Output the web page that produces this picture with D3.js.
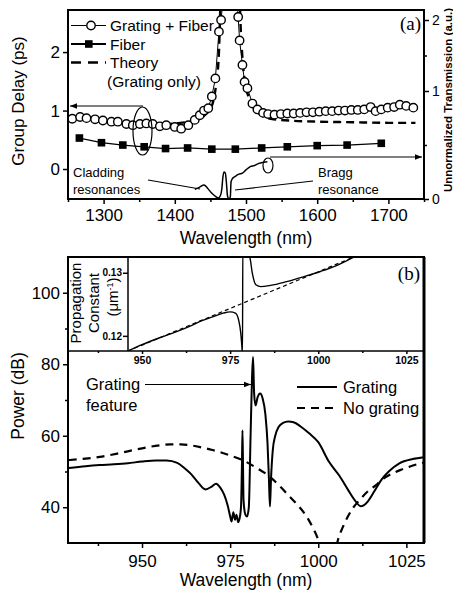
<!DOCTYPE html>
<html lang="en">
<head>
<meta charset="UTF-8">
<title>Group delay / grating power</title>
<script src="https://d3js.org/d3.v7.min.js"></script>
<style>
  body { margin: 0; background: #fff; }
  text { font-family: "Liberation Sans", Arial, sans-serif; fill: #000; }
</style>
</head>
<body>
<script>
// ---------- panel (a) : group delay ----------
var gfWl    = [1256,1267,1276,1288,1299,1311,1320,1332,1341,1351,1360,1369,1379,1388,1400,1409,1419,1428,1435,1441,1447,1452,1457,1462,1465,1470,
               1486,1489,1491,1495,1498,1502,1509,1516,1524,1531,1540,1549,1558,1567,1576,1585,1594,1603,1612,1621,1630,1639,1648,1657,1666,1675,1682,1690,1699,1708,1716,1725,1735];
var gfDelay = [0.86,0.89,0.87,0.85,0.83,0.81,0.81,0.77,0.75,0.77,0.78,0.77,0.73,0.75,0.72,0.69,0.75,0.84,0.92,1.0,1.04,1.24,1.55,2.35,2.55,3.2,
               3.2,2.6,2.2,1.78,1.49,1.38,1.12,1.02,0.96,0.94,0.93,0.94,0.95,0.95,0.96,0.97,0.97,0.98,0.99,0.99,1.0,1.0,1.01,1.01,1.02,1.06,0.99,1.02,1.05,1.06,1.1,1.08,1.05];

var fiberWl    = [1266,1297,1327,1357,1387,1418,1452,1485,1522,1558,1600,1642,1690];
var fiberDelay = [0.53,0.45,0.41,0.38,0.35,0.36,0.34,0.34,0.36,0.38,0.40,0.41,0.44];

var theoryWl    = [1385,1400,1415,1430,1442,1452,1458,1462,1464,1466,1490,1492,1495,1499,1505,1512,1520,1535,1560,1600,1650,1700,1738];
var theoryDelay = [0.76,0.78,0.80,0.84,0.92,1.08,1.45,2.0,2.8,3.5,3.5,2.6,1.9,1.45,1.2,1.03,0.93,0.86,0.83,0.81,0.80,0.79,0.79];

var transWl  = [1428,1435,1441,1446,1451,1456,1461,1464,1466,1467.5,1469,1471,1472.5,1474,1476,1478,1479,1481,1485,1490,1495,1500,1506,1512,1518,1525,1530];
var transVal = [0.09,0.11,0.13,0.10,0.06,0.03,0.01,0.03,0.09,0.20,0.25,0.24,0.15,0.03,0.0,0.02,0.16,0.19,0.21,0.23,0.24,0.27,0.30,0.31,0.33,0.34,0.345];

var aXTicks = [1300,1400,1500,1600,1700];
var aXMinor = [1250,1350,1450,1550,1650,1750];
var aYTicks = [0,1,2];
var aRTicks = [0,1,2];

// ---------- panel (b) : power ----------
var gratWl  = [929.2,934,938,942,946,950,954,957,960,962,964,966,968,969.8,971,972.2,973.3,974.3,975,975.4,975.9,976.4,976.8,977.3,977.8,978.1,978.35,978.5,978.65,978.8,979.3,979.8,980.3,980.8,981.2,981.5,981.8,982.2,982.8,983.5,984.2,985,985.6,986,986.3,986.6,987.1,987.8,988.8,990,991.5,993,995,997.5,1000,1003,1006,1008.5,1010.5,1012,1013,1014.2,1016,1018,1020,1023,1026.8,1030];
var gratPow = [51.0,51.5,51.8,52.0,52.3,52.8,53.1,53.1,52.4,51.0,49.2,46.8,45.0,45.8,46.6,45.5,43.5,40.5,37.5,36.0,38.6,36.5,37.9,35.8,37.5,40.5,52,61.5,52,42,38,37.4,40,60,76,82,72,68.5,70.8,71.8,70.5,66,58,48,40.2,48,56,60,62.5,63.6,64.0,63.8,62.6,60.6,58.2,52.8,48.8,44.8,41.8,40.3,40.6,41.8,44.6,47.8,50.0,52.3,53.5,54.0];

var noGratWl  = [929.2,934,938,943,947.6,951,955,958,961,964,967,970,972.2,975,978.7,982,986.3,989,991,993.5,996.7,998.5,1000,1001.5,1003,1004.5,1005.6,1007,1008.4,1010,1011.7,1014,1016.4,1018.5,1021.1,1023.5,1025.8,1028,1030];
var noGratPow = [53.2,53.6,54.1,55.0,56.0,56.7,57.3,57.6,57.6,57.3,56.7,56.0,55.4,54.5,53.1,51.3,48.5,46.0,43.9,41.3,37.4,34.2,30.9,26,18,26,30.9,34.5,37.4,40.0,42.0,44.4,46.2,48.0,49.5,50.5,51.3,52.0,52.5];

var bXTicks = [950,975,1000,1025];
var bXMinor = [937.5,962.5,987.5,1012.5];
var bYTicks = [40,60,80,100];
var bYMinor = [50,70,90];

// inset : propagation constant
var insetWl   = [946,950,955,960,963.5,967,970,973,975,976.5,977.5,978.0,978.3,978.5,978.6,980.6,981.3,982.3,983.7,986.5,991,996,1000.6,1005,1008,1010.5];
var insetBeta = [0.1176,0.1186,0.1197,0.1207,0.1215,0.1224,0.1230,0.1236,0.1238,0.1236,0.1223,0.1205,0.1186,0.1170,0.1340,0.1324,0.1299,0.1281,0.1278,0.1280,0.1286,0.1294,0.1302,0.1311,0.1319,0.1326];
var insetLineWl   = [946,1010.5];
var insetLineBeta = [0.1176,0.1326];
var insetYTicks = [0.12,0.13];

var W = 453, H = 593;
var svg = d3.select("body").append("svg").attr("width", W).attr("height", H);
var defs = svg.append("defs");
defs.append("clipPath").attr("id", "clipA").append("rect").attr("x", 68).attr("y", 10).attr("width", 356).attr("height", 189);
defs.append("clipPath").attr("id", "clipI").append("rect").attr("x", 128).attr("y", 257).attr("width", 296).attr("height", 94);
defs.append("clipPath").attr("id", "clipB").append("rect").attr("x", 68).attr("y", 351).attr("width", 356).attr("height", 192);
defs.append("marker").attr("id", "arrow").attr("viewBox", "0 0 10 10")
    .attr("refX", 10).attr("refY", 5).attr("markerWidth", 8).attr("markerHeight", 7)
    .attr("markerUnits", "userSpaceOnUse").attr("orient", "auto-start-reverse")
  .append("path").attr("d", "M0,1L10,5L0,9Z");

// scales
var xA = d3.scaleLinear().domain([1250, 1750]).range([68, 424]);
var yA = d3.scaleLinear().domain([-0.53, 2.72]).range([200, 10]);
var yT = d3.scaleLinear().domain([0, 1, 2]).range([199, 91, 20]);
var xB = d3.scaleLinear().domain([929, 1030]).range([68, 424]);
var yB = d3.scaleLinear().domain([30, 110]).range([543, 257]);
var yI = d3.scaleLinear().domain([0.1176, 0.1325]).range([351, 257]);
var fmtInt = d3.format("d");

function styleAxis(g, size, weight) {
  g.attr("font-family", "'Liberation Sans', Arial, sans-serif").attr("font-size", size);
  if (weight) g.attr("font-weight", weight);
  g.select(".domain").remove();
  g.selectAll("line").attr("stroke", "#000").attr("stroke-width", 1.5);
}

// ================= panel (a) =================
var pa = svg.append("g");

pa.append("g").attr("transform", "translate(0,199)")
  .call(d3.axisBottom(xA).tickValues(aXTicks).tickSize(5).tickPadding(5).tickFormat(fmtInt))
  .call(styleAxis, 17);
pa.append("g").attr("transform", "translate(0,199)")
  .call(d3.axisBottom(xA).tickValues(aXMinor).tickSize(3).tickFormat(""))
  .call(styleAxis, 17);
pa.append("g").attr("transform", "translate(68,0)")
  .call(d3.axisLeft(yA).tickValues(aYTicks).tickSize(5).tickPadding(3).tickFormat(fmtInt))
  .call(styleAxis, 17);
pa.append("g").attr("transform", "translate(424,0)")
  .call(d3.axisRight(yT).tickValues(aRTicks).tickSize(5).tickPadding(3).tickFormat(fmtInt))
  .call(styleAxis, 14);
pa.append("g").attr("transform", "translate(424,0)")
  .call(d3.axisRight(yT).tickValues([0.5, 1.5]).tickSize(3).tickFormat(""))
  .call(styleAxis, 14);

var plotA = pa.append("g").attr("clip-path", "url(#clipA)");
var lineA = d3.line().x(function(d) { return xA(d[0]); }).y(function(d) { return yA(d[1]); });
var lineT = d3.line().x(function(d) { return xA(d[0]); }).y(function(d) { return yT(d[1]); });

plotA.append("path").datum(d3.zip(theoryWl, theoryDelay))
  .attr("d", lineA.curve(d3.curveMonotoneX)).attr("fill", "none").attr("stroke", "#000")
  .attr("stroke-width", 2.4).attr("stroke-dasharray", "8,5");
lineA.curve(d3.curveLinear);
plotA.append("path").datum(d3.zip(gfWl, gfDelay))
  .attr("d", lineA).attr("fill", "none").attr("stroke", "#000").attr("stroke-width", 1);
plotA.selectAll("circle.gf").data(d3.zip(gfWl, gfDelay)).enter().append("circle")
  .attr("class", "gf").attr("cx", function(d) { return xA(d[0]); }).attr("cy", function(d) { return yA(d[1]); })
  .attr("r", 4.2).attr("fill", "#fff").attr("stroke", "#000").attr("stroke-width", 1.4);

plotA.append("path").datum(d3.zip(fiberWl, fiberDelay))
  .attr("d", lineA).attr("fill", "none").attr("stroke", "#000").attr("stroke-width", 1.3);
plotA.selectAll("rect.fb").data(d3.zip(fiberWl, fiberDelay)).enter().append("rect")
  .attr("class", "fb").attr("x", function(d) { return xA(d[0]) - 3.8; }).attr("y", function(d) { return yA(d[1]) - 3.8; })
  .attr("width", 7.6).attr("height", 7.6).attr("fill", "#000");

plotA.append("path").datum(d3.zip(transWl, transVal))
  .attr("d", lineT.curve(d3.curveMonotoneX)).attr("fill", "none").attr("stroke", "#000").attr("stroke-width", 1.5);

// frame (a)
pa.append("rect").attr("x", 68).attr("y", 10).attr("width", 356).attr("height", 189)
  .attr("fill", "none").attr("stroke", "#000").attr("stroke-width", 2);

// annotations (a)
pa.append("ellipse").attr("cx", 142.5).attr("cy", 131).attr("rx", 9.5).attr("ry", 24)
  .attr("fill", "none").attr("stroke", "#000").attr("stroke-width", 1.2);
pa.append("line").attr("x1", 143).attr("y1", 106).attr("x2", 70).attr("y2", 106)
  .attr("stroke", "#000").attr("stroke-width", 1.2).attr("marker-end", "url(#arrow)");
pa.append("ellipse").attr("cx", 268).attr("cy", 165.5).attr("rx", 5).attr("ry", 7.5)
  .attr("fill", "none").attr("stroke", "#000").attr("stroke-width", 1.2);
pa.append("line").attr("x1", 270).attr("y1", 157).attr("x2", 422).attr("y2", 157)
  .attr("stroke", "#000").attr("stroke-width", 1.2).attr("marker-end", "url(#arrow)");
pa.append("line").attr("x1", 148).attr("y1", 180).attr("x2", 200).attr("y2", 189).attr("stroke", "#000").attr("stroke-width", 1.1);
pa.append("line").attr("x1", 235).attr("y1", 190).attr("x2", 313).attr("y2", 181).attr("stroke", "#000").attr("stroke-width", 1.1);
pa.append("text").attr("x", 73).attr("y", 177).attr("font-size", 13).text("Cladding");
pa.append("text").attr("x", 73).attr("y", 194).attr("font-size", 13).text("resonances");
pa.append("text").attr("x", 318).attr("y", 177).attr("font-size", 13).text("Bragg");
pa.append("text").attr("x", 318).attr("y", 194).attr("font-size", 13).text("resonance");

// legend (a)
var lg = pa.append("g");
lg.append("line").attr("x1", 71).attr("x2", 106).attr("y1", 25.5).attr("y2", 25.5).attr("stroke", "#000").attr("stroke-width", 1);
lg.append("circle").attr("cx", 91).attr("cy", 25.5).attr("r", 4.2).attr("fill", "#fff").attr("stroke", "#000").attr("stroke-width", 1.4);
lg.append("line").attr("x1", 71).attr("x2", 106).attr("y1", 44).attr("y2", 44).attr("stroke", "#000").attr("stroke-width", 2);
lg.append("rect").attr("x", 85).attr("y", 40.2).attr("width", 7.6).attr("height", 7.6).attr("fill", "#000");
lg.append("line").attr("x1", 71).attr("x2", 106).attr("y1", 62.5).attr("y2", 62.5).attr("stroke", "#000")
  .attr("stroke-width", 2.4).attr("stroke-dasharray", "10,7");
lg.append("text").attr("x", 110).attr("y", 31).attr("font-size", 15.5).text("Grating + Fiber");
lg.append("text").attr("x", 110).attr("y", 49.5).attr("font-size", 15.5).text("Fiber");
lg.append("text").attr("x", 110).attr("y", 68).attr("font-size", 15.5).text("Theory");
lg.append("text").attr("x", 107).attr("y", 86.5).attr("font-size", 15.5).text("(Grating only)");

pa.append("text").attr("x", 421).attr("y", 30).attr("text-anchor", "end")
  .style("font-family", "'Liberation Serif', 'Times New Roman', serif").attr("font-size", 19).text("(a)");

// axis titles (a)
pa.append("text").attr("transform", "translate(24,101) rotate(-90)").attr("text-anchor", "middle")
  .attr("font-size", 17).text("Group Delay (ps)");
pa.append("text").attr("transform", "translate(452,100) rotate(-90)").attr("text-anchor", "middle")
  .attr("font-size", 11.5).attr("font-weight", "bold").text("Unnormalized Transmission (a.u.)");
pa.append("text").attr("x", 246).attr("y", 244).attr("text-anchor", "middle")
  .attr("font-size", 17.5).text("Wavelength (nm)");

// ================= panel (b) =================
var pb = svg.append("g");

pb.append("g").attr("transform", "translate(0,543)")
  .call(d3.axisBottom(xB).tickValues(bXTicks).tickSize(5).tickPadding(7).tickFormat(fmtInt))
  .call(styleAxis, 17);
pb.append("g").attr("transform", "translate(0,543)")
  .call(d3.axisBottom(xB).tickValues(bXMinor).tickSize(3).tickFormat(""))
  .call(styleAxis, 17);
pb.append("g").attr("transform", "translate(68,0)")
  .call(d3.axisLeft(yB).tickValues(bYTicks).tickSize(5).tickPadding(3).tickFormat(fmtInt))
  .call(styleAxis, 17);
pb.append("g").attr("transform", "translate(68,0)")
  .call(d3.axisLeft(yB).tickValues(bYMinor).tickSize(3).tickFormat(""))
  .call(styleAxis, 17);

var plotB = pb.append("g").attr("clip-path", "url(#clipB)");
var lineB = d3.line().x(function(d) { return xB(d[0]); }).y(function(d) { return yB(d[1]); }).curve(d3.curveMonotoneX);
plotB.append("path").datum(d3.zip(noGratWl, noGratPow))
  .attr("d", lineB).attr("fill", "none").attr("stroke", "#000").attr("stroke-width", 2.2).attr("stroke-dasharray", "8,6");
plotB.append("path").datum(d3.zip(gratWl, gratPow))
  .attr("d", lineB).attr("fill", "none").attr("stroke", "#000").attr("stroke-width", 2);

// inset
var pi = pb.append("g");
pi.append("g").attr("transform", "translate(128,0)")
  .call(d3.axisLeft(yI).tickValues(insetYTicks).tickSize(5).tickPadding(1).tickFormat(d3.format(".2f")))
  .call(styleAxis, 10, "bold");
pi.append("g").attr("transform", "translate(0,351)")
  .call(d3.axisBottom(xB).tickValues(bXTicks).tickSize(3).tickPadding(3).tickFormat(fmtInt))
  .call(styleAxis, 10.5, "bold");
pi.append("g").attr("transform", "translate(0,351)")
  .call(d3.axisBottom(xB).tickValues(bXMinor).tickSize(2).tickFormat(""))
  .call(styleAxis, 10.5);

var plotI = pi.append("g").attr("clip-path", "url(#clipI)");
var lineI = d3.line().x(function(d) { return xB(d[0]); }).y(function(d) { return yI(d[1]); });
plotI.append("path").datum(d3.zip(insetLineWl, insetLineBeta))
  .attr("d", lineI).attr("fill", "none").attr("stroke", "#000").attr("stroke-width", 1.2).attr("stroke-dasharray", "4,3");
plotI.append("path").datum(d3.zip(insetWl, insetBeta))
  .attr("d", lineI.curve(d3.curveMonotoneX)).attr("fill", "none").attr("stroke", "#000").attr("stroke-width", 1.4);

pi.append("line").attr("x1", 128).attr("x2", 128).attr("y1", 257).attr("y2", 351).attr("stroke", "#000").attr("stroke-width", 1.5);
pi.append("line").attr("x1", 68).attr("x2", 424).attr("y1", 351).attr("y2", 351).attr("stroke", "#000").attr("stroke-width", 1.5);

pi.append("text").attr("transform", "translate(81,303) rotate(-90)").attr("text-anchor", "middle")
  .attr("font-size", 15).text("Propagation");
pi.append("text").attr("transform", "translate(99,303) rotate(-90)").attr("text-anchor", "middle")
  .attr("font-size", 15).text("Constant");
var mu = pi.append("text").attr("transform", "translate(118,297) rotate(-90)").attr("text-anchor", "middle")
  .attr("font-size", 15);
mu.append("tspan").text("(\u03bcm");
mu.append("tspan").attr("dy", -5).attr("font-size", 9).text("-1");
mu.append("tspan").attr("dy", 5).text(")");

// frame (b)
pb.append("rect").attr("x", 68).attr("y", 257).attr("width", 356).attr("height", 286)
  .attr("fill", "none").attr("stroke", "#000").attr("stroke-width", 2);
pb.append("line").attr("x1", 424).attr("x2", 424).attr("y1", 257).attr("y2", 543).attr("stroke", "#000").attr("stroke-width", 3);

pb.append("text").attr("x", 420).attr("y", 280).attr("text-anchor", "end")
  .style("font-family", "'Liberation Serif', 'Times New Roman', serif").attr("font-size", 19).text("(b)");

// grating feature arrow
pb.append("text").attr("x", 86).attr("y", 390).attr("font-size", 16.5).text("Grating");
pb.append("text").attr("x", 86).attr("y", 411).attr("font-size", 16.5).text("feature");
pb.append("line").attr("x1", 145).attr("y1", 384.5).attr("x2", 251).attr("y2", 384.5)
  .attr("stroke", "#000").attr("stroke-width", 1.1).attr("marker-end", "url(#arrow)");

// legend (b)
pb.append("line").attr("x1", 297).attr("x2", 337).attr("y1", 387).attr("y2", 387).attr("stroke", "#000").attr("stroke-width", 2);
pb.append("line").attr("x1", 297).attr("x2", 337).attr("y1", 408).attr("y2", 408).attr("stroke", "#000")
  .attr("stroke-width", 2.2).attr("stroke-dasharray", "8,6");
pb.append("text").attr("x", 343).attr("y", 393).attr("font-size", 16.5).text("Grating");
pb.append("text").attr("x", 343).attr("y", 414).attr("font-size", 16.5).text("No grating");

pb.append("text").attr("transform", "translate(24,396) rotate(-90)").attr("text-anchor", "middle")
  .attr("font-size", 17.5).text("Power (dB)");
pb.append("text").attr("x", 246).attr("y", 586).attr("text-anchor", "middle")
  .attr("font-size", 17.5).text("Wavelength (nm)");
</script>
</body>
</html>
